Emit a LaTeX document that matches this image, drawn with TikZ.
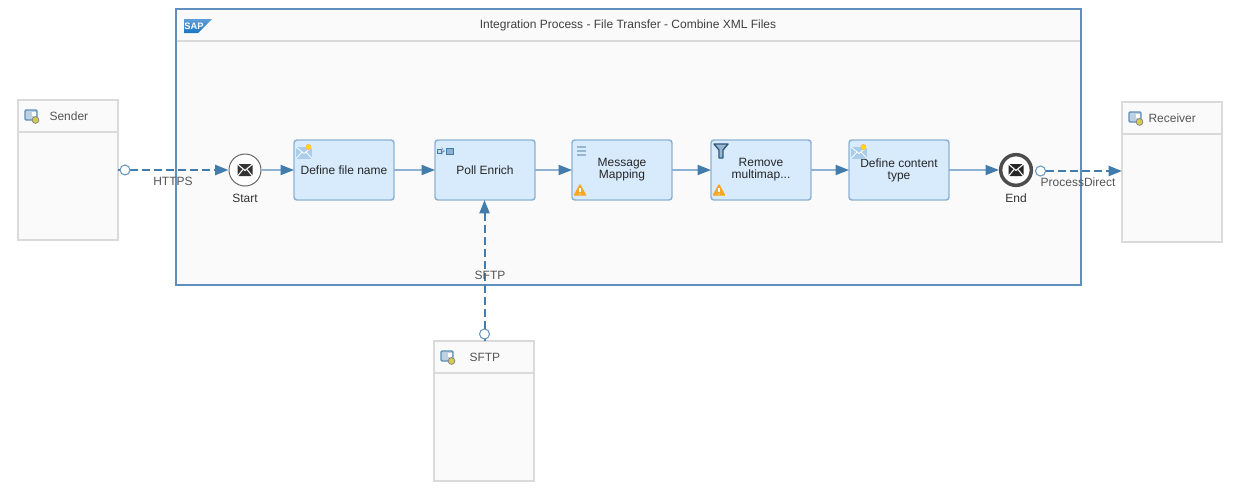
\documentclass[tikz,border=0pt]{standalone}
\usepackage{fontspec}
\setmainfont{Liberation Sans}
\usetikzlibrary{arrows.meta,positioning,calc}
\definecolor{poolblue}{HTML}{5F8FBE}
\definecolor{flowblue}{HTML}{8DB2D3}
\definecolor{tipblue}{HTML}{427CAC}
\definecolor{taskfill}{HTML}{D7EBFD}
\definecolor{paleline}{HTML}{DADADA}
\definecolor{palefill}{HTML}{FAFAFA}
\definecolor{labelgrey}{HTML}{555555}
\definecolor{warnorange}{HTML}{F5A623}
\definecolor{sapblue}{HTML}{1B74C4}
\definecolor{mailblue}{HTML}{A9CDEA}
\tikzset{every picture/.style={line width=0.75pt}}
\tikzset{
    tinytext/.style={font=\fontsize{9}{9}\selectfont},
    process/.style={draw=poolblue, fill=palefill, line width=1.5pt, minimum width=678.5pt, minimum height=207pt, inner sep=0pt, outer sep=0pt},
    partbox/.style={draw=paleline, fill=palefill, line width=1.5pt, minimum width=75pt, minimum height=105pt, inner sep=0pt, outer sep=0pt},
    parthead/.style={tinytext, text=labelgrey, inner sep=0pt},
    task/.style={tinytext, draw=flowblue, fill=taskfill, line width=1.1pt, rounded corners=2.2pt, minimum width=75pt, minimum height=45pt, inner sep=0pt, outer sep=0pt, align=center, text=black!85},
    startevent/.style={circle, draw=black!60, fill=white, line width=0.75pt, minimum size=24pt, inner sep=0pt},
    endevent/.style={circle, draw=black!70, fill=white, line width=2.6pt, minimum size=23pt, inner sep=0pt},
    port/.style={circle, draw=tipblue!80, fill=white, line width=0.8pt, minimum size=7.5pt, inner sep=0pt},
    flow/.style={draw=flowblue, line width=1.3pt, -{Triangle[length=10pt,width=7.5pt,color=tipblue]}},
    msgflow/.style={draw=tipblue, line width=1.5pt, dash pattern=on 6pt off 3pt, -{Triangle[length=10pt,width=7.5pt,color=tipblue]}},
    flowlabel/.style={tinytext, text=labelgrey, inner sep=0pt},
    eventlabel/.style={tinytext, text=black!80, inner sep=0pt}
}
% small icons, #1 is the centre
\newcommand{\systemicon}[1]{
    \draw[tipblue!85, fill=tipblue!35, line width=1pt, rounded corners=0.8pt] ($(#1)+(-6,-6)$) rectangle ($(#1)+(6,4)$);
    \fill[white] ($(#1)+(1,-4.5)$) rectangle ($(#1)+(4.8,0)$);
    \filldraw[draw=black!50, fill=yellow!60!gray, line width=0.5pt] ($(#1)+(4.5,4)$) circle (3.4);
}
\newcommand{\mailicon}[2]{
    \fill[#2, rounded corners=1pt] ($(#1)+(-7.5,-6)$) rectangle ($(#1)+(7.5,6)$);
    \draw[white, line width=0.8pt] ($(#1)+(-7,-5.5)$) -- ($(#1)+(0,0.5)$) -- ($(#1)+(7,-5.5)$);
    \draw[white, line width=0.8pt] ($(#1)+(-7,5.5)$) -- ($(#1)+(-2,-0.5)$);
    \draw[white, line width=0.8pt] ($(#1)+(7,5.5)$) -- ($(#1)+(2,-0.5)$);
}
\newcommand{\newmailicon}[1]{
    \fill[mailblue] ($(#1)+(-8,-5.5)$) rectangle ($(#1)+(8,6)$);
    \draw[white, line width=0.6pt] ($(#1)+(-8,-5.5)$) -- ($(#1)+(0,1)$) -- ($(#1)+(8,-5.5)$);
    \draw[white, line width=0.6pt] ($(#1)+(-8,6)$) -- ($(#1)+(-2,-0.5)$);
    \draw[white, line width=0.6pt] ($(#1)+(8,6)$) -- ($(#1)+(2,-0.5)$);
    \filldraw[draw=orange!60, fill=yellow!80!orange, line width=0.4pt] ($(#1)+(4.5,-5.5)$) circle (2.6);
}
\newcommand{\warnicon}[1]{
    \filldraw[draw=warnorange, fill=warnorange, line width=1pt, line join=round] ($(#1)+(-5.5,5)$) -- ($(#1)+(0,-5)$) -- ($(#1)+(5.5,5)$) -- cycle;
    \draw[white, line width=1pt] ($(#1)+(0,-2.5)$) -- ($(#1)+(0,2)$);
    \fill[white] ($(#1)+(0,4)$) circle (0.7);
}

\begin{document}
\begin{tikzpicture}[x=0.75pt,y=-0.75pt]
    \useasboundingbox (0,0) rectangle (1235,497);

    % integration process
    \node[process] (pool) at (628.5,146.5) {};
    \draw[paleline, line width=1.1pt] ($(pool.west |- 0,41)+(1,0)$) -- ($(pool.east |- 0,41)+(-1,0)$);
    \node[parthead, text=black!75] (pooltitle) at (628,25) {Integration Process - File Transfer - Combine XML Files};
    \shade[top color=sapblue!70, bottom color=sapblue] (184,19) -- (212,19) -- (198,33) -- (184,33) -- cycle;
    \node[inner sep=0pt, text=white, font=\fontsize{7}{7}\bfseries\selectfont] (saplogo) at (194,26) {SAP};

    % participants
    \node[partbox] (sender) at (68,170) {};
    \draw[paleline, line width=1.5pt] (sender.west |- 0,132) -- (sender.east |- 0,132);
    \node[parthead, anchor=west] (sendername) at (49,116) {Sender};
    \systemicon{31,116}

    \node[partbox] (receiver) at (1172,172) {};
    \draw[paleline, line width=1.5pt] (receiver.west |- 0,134) -- (receiver.east |- 0,134);
    \node[parthead, anchor=west] (receivername) at (1148,118) {Receiver};
    \systemicon{1135,118}

    \node[partbox] (sftpbox) at (484,411) {};
    \draw[paleline, line width=1.5pt] (sftpbox.west |- 0,373) -- (sftpbox.east |- 0,373);
    \node[parthead, anchor=west] (sftpname) at (469,357) {SFTP};
    \systemicon{447,357}

    % events and steps
    \node[startevent] (start) at (245,170) {};
    \mailicon{245,170}{black!80}
    \node[eventlabel] (startlabel) at (245,198) {Start};

    \node[task] (filename) at (344,170) {Define file name};
    \node[task] (poll) at (485,170) {Poll Enrich};
    \node[task] (mapping) at (622,170) {Message\\Mapping};
    \node[task] (filter) at (761,170) {Remove\\multimap...};
    \node[task] (content) at (899,170) {Define content\\type};

    \node[endevent] (end) at (1016,170) {};
    \mailicon{1016,170}{black!85}
    \node[eventlabel] (endlabel) at (1016,198) {End};

    % step icons
    \newmailicon{304,152.5}
    \newmailicon{859,152.5}
    \draw[tipblue, fill=tipblue!30, line width=0.6pt] (437,149) rectangle (441,153);
    \draw[tipblue!70, line width=0.5pt, ->] (441.5,151) -- (445,151);
    \draw[tipblue, fill=tipblue!60, line width=0.7pt] (446,148) rectangle (453,154);
    \draw[tipblue!55, line width=0.9pt] (577,147) -- (586,147) (577,151) -- (586,151) (577,155) -- (586,155);
    \filldraw[draw=tipblue!70!black, fill=tipblue!55, line width=1pt, line join=round] (714,144) -- (728,144) -- (723,150) -- (723,158) -- (719,158) -- (719,150) -- cycle;
    \warnicon{580,190}
    \warnicon{719,190}

    % connectors
    \draw[flow] (start) -- (filename);
    \draw[flow] (filename) -- (poll);
    \draw[flow] (poll) -- (mapping);
    \draw[flow] (mapping) -- (filter);
    \draw[flow] (filter) -- (content);
    \draw[flow] (content) -- (end);

    \coordinate (sftpfoot) at (484.5,341);
    \draw[msgflow] (sender) -- (start);
    \draw[msgflow] (sftpfoot) -- (sftpfoot |- poll.south);
    \node[port] (senderport) at (125,170) {};
    \node[port] (sftpport) at (484.5,334) {};
    \node[port] (endport) at (1040.5,171) {};
    \draw[msgflow] (endport) -- (endport -| receiver.west);

    % connector labels
    \node[flowlabel] (httpslabel) at (173,181) {HTTPS};
    \node[flowlabel] (sftplabel) at (490,275.5) {SFTP};
    \node[flowlabel] (directlabel) at (1078,182) {ProcessDirect};
\end{tikzpicture}
\end{document}
